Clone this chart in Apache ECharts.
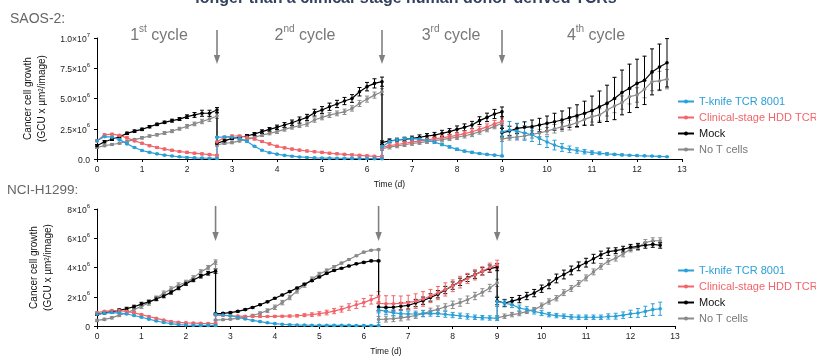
<!DOCTYPE html>
<html><head><meta charset="utf-8">
<script src="https://cdn.jsdelivr.net/npm/echarts@6/dist/echarts.min.js"></script>
<style>html,body{margin:0;padding:0;background:#fff}#c{width:816px;height:357px}</style>
</head><body><div id="c"></div>
<script>
// ---------- time points (hours) per cycle ----------
const HOURS_C1 = [0,4,8,12,16,20,24,28,32,36,40,44,48,52,56,60,64];
const HOURS_C2 = [64,68,72,76,80,84,88,92,96,100,104,108,112,116,120,124,128,132,136,140,144,148,152];
const HOURS_C3 = [152,156,160,164,168,172,176,180,184,188,192,196,200,204,208,212,216];
const HOURS_C4 = [216,220,224,228,232,236,240,244,248,252,256,260,264,268,272,276,280,284,288,292,296,300,304];
const CYCLE_BOUNDARY_H = [64,152,216];
const X_TICKS = [0,1,2,3,4,5,6,7,8,9,10,11,12,13];

const SERIES_NAMES = ['T-knife TCR 8001','Clinical-stage HDD TCR','Mock','No T cells'];
const CYCLE_LABELS = [['1','st'],['2','nd'],['3','rd'],['4','th']];

// ---------- SAOS-2 (values in 10^6 GCU x µm²/image) ----------
const SAOS_TICKS = [0,2.5,5,7.5,10];
const SAOS_TICK_LABELS = ['0.0','2.5×10^6','5.0×10^6','7.5×10^6','1.0×10^7'];
const SAOS_TKNIFE = [1.5,1.85,1.8,1.6,1.25,0.95,0.7,0.55,0.42,0.32,0.25,0.18,0.13,0.1,0.08,0.06,0.05,
  1.8,1.82,1.8,1.7,1.45,1.05,0.72,0.52,0.4,0.3,0.23,0.17,0.13,0.1,0.08,0.07,0.06,0.05,0.05,0.04,0.04,0.03,0.03,
  1.0,1.45,1.58,1.65,1.68,1.65,1.55,1.4,1.2,1.0,0.8,0.65,0.55,0.45,0.38,0.32,0.25,
  2.25,2.4,2.3,2.15,2.0,1.7,1.4,1.15,0.95,0.8,0.7,0.6,0.53,0.47,0.42,0.38,0.34,0.31,0.28,0.26,0.24,0.21,0.19];
const SAOS_TKNIFE_ERR = [0.05,0.05,0.05,0.05,0.05,0.05,0.05,0.05,0.05,0.05,0.05,0.05,0.05,0.05,0.05,0.05,0.05,
  0.06,0.06,0.06,0.06,0.06,0.06,0.05,0.05,0.05,0.05,0.05,0.05,0.05,0.05,0.05,0.05,0.05,0.05,0.05,0.05,0.05,0.05,0.05,
  0.1,0.12,0.12,0.12,0.12,0.12,0.12,0.12,0.1,0.1,0.1,0.08,0.08,0.08,0.06,0.06,0.06,
  0.35,0.7,0.65,0.6,0.55,0.5,0.45,0.4,0.32,0.27,0.22,0.18,0.15,0.12,0.1,0.08,0.07,0.06,0.05,0.05,0.04,0.04,0.03];
const SAOS_HDD = [1.5,2.0,2.05,1.95,1.75,1.5,1.3,1.1,0.95,0.82,0.72,0.62,0.55,0.48,0.42,0.36,0.3,
  1.4,1.8,1.9,1.9,1.8,1.65,1.45,1.25,1.05,0.92,0.82,0.73,0.66,0.6,0.55,0.48,0.43,0.38,0.34,0.3,0.26,0.22,0.2,
  0.96,1.1,1.2,1.3,1.4,1.5,1.58,1.66,1.75,1.85,1.95,2.1,2.25,2.45,2.65,2.9,3.1];
const SAOS_HDD_ERR = [0.08,0.08,0.08,0.08,0.08,0.08,0.08,0.08,0.08,0.08,0.08,0.08,0.08,0.08,0.08,0.08,0.08,
  0.08,0.08,0.08,0.08,0.08,0.08,0.08,0.08,0.08,0.08,0.08,0.08,0.08,0.08,0.08,0.08,0.08,0.08,0.08,0.08,0.08,0.08,0.08,
  0.15,0.15,0.15,0.15,0.15,0.18,0.18,0.2,0.2,0.2,0.22,0.22,0.25,0.25,0.25,0.28,0.3];
const SAOS_MOCK = [1.1,1.43,1.63,1.84,2.12,2.3,2.45,2.67,2.86,3.03,3.17,3.3,3.5,3.64,3.78,3.78,4.05,
  1.3,1.5,1.7,1.8,1.9,2.07,2.26,2.45,2.62,2.81,3.0,3.22,3.44,3.83,4.05,4.32,4.55,4.79,5.0,5.56,5.98,6.25,6.39,
  1.35,1.51,1.57,1.62,1.71,1.79,1.9,1.98,2.12,2.26,2.45,2.62,2.81,3.17,3.44,3.72,3.9,
  2.17,2.31,2.53,2.62,2.67,2.81,2.95,3.08,3.22,3.42,3.58,3.78,4.0,4.32,4.6,5.0,5.5,5.84,6.25,6.5,7.2,7.6,7.95];
const SAOS_MOCK_ERR = [0.1,0.1,0.1,0.1,0.1,0.1,0.1,0.1,0.1,0.1,0.12,0.12,0.15,0.2,0.25,0.25,0.2,
  0.1,0.1,0.1,0.1,0.12,0.12,0.15,0.15,0.18,0.2,0.22,0.25,0.25,0.28,0.28,0.3,0.3,0.3,0.32,0.35,0.35,0.38,0.38,
  0.15,0.15,0.15,0.18,0.18,0.2,0.2,0.22,0.25,0.25,0.28,0.28,0.3,0.32,0.35,0.38,0.4,
  0.35,0.4,0.4,0.45,0.55,0.55,0.6,0.7,0.75,0.8,0.9,1.0,1.2,1.3,1.5,1.75,1.85,2.0,2.0,2.0,1.9,1.9,2.0];
const SAOS_NOT = [0.95,1.1,1.2,1.3,1.45,1.6,1.75,1.9,2.0,2.15,2.3,2.5,2.7,2.9,3.1,3.3,3.55,
  1.16,1.3,1.36,1.5,1.62,1.79,1.98,2.12,2.26,2.45,2.62,2.75,2.89,3.22,3.44,3.63,3.77,3.9,4.18,4.59,4.95,5.28,5.56,
  0.85,0.98,1.08,1.18,1.28,1.36,1.44,1.52,1.6,1.7,1.8,1.92,2.05,2.25,2.45,2.7,2.95,
  1.65,1.76,1.82,1.9,2.03,2.15,2.3,2.5,2.65,2.8,3.0,3.27,3.5,3.64,4.05,4.38,4.66,5.15,5.29,5.76,6.39,6.45,6.6];
const SAOS_NOT_ERR = [0.08,0.08,0.08,0.08,0.1,0.1,0.1,0.1,0.1,0.12,0.12,0.12,0.15,0.15,0.18,0.2,0.2,
  0.1,0.1,0.1,0.1,0.1,0.12,0.12,0.12,0.15,0.15,0.15,0.15,0.18,0.18,0.2,0.2,0.2,0.22,0.22,0.25,0.25,0.25,0.25,
  0.15,0.15,0.15,0.15,0.15,0.15,0.15,0.15,0.18,0.18,0.18,0.18,0.2,0.2,0.2,0.2,0.2,
  0.2,0.2,0.25,0.25,0.3,0.3,0.3,0.35,0.35,0.4,0.4,0.45,0.45,0.5,0.5,0.55,0.55,0.6,0.6,0.7,0.75,0.8,0.8];

// ---------- NCI-H1299 ----------
const NCI_TICKS = [0,2,4,6,8];
const NCI_TICK_LABELS = ['0','2×10^6','4×10^6','6×10^6','8×10^6'];
const NCI_TKNIFE = [0.8,0.88,0.92,0.9,0.82,0.72,0.6,0.47,0.34,0.24,0.16,0.1,0.07,0.05,0.04,0.04,0.03,
  0.8,0.75,0.7,0.6,0.48,0.38,0.3,0.22,0.16,0.12,0.09,0.07,0.06,0.05,0.05,0.04,0.04,0.04,0.04,0.03,0.03,0.03,0.03,
  1.1,1.0,0.9,0.85,0.82,0.82,0.85,0.87,0.85,0.8,0.75,0.7,0.65,0.6,0.57,0.55,0.52,
  1.68,1.57,1.46,1.23,1.12,1.0,0.89,0.78,0.71,0.67,0.62,0.6,0.6,0.6,0.6,0.65,0.67,0.74,0.83,0.89,1.0,1.12,1.18];
const NCI_TKNIFE_ERR = [0.04,0.04,0.04,0.04,0.04,0.04,0.04,0.04,0.04,0.04,0.04,0.04,0.04,0.04,0.04,0.04,0.04,
  0.04,0.04,0.04,0.04,0.04,0.04,0.04,0.04,0.04,0.04,0.04,0.04,0.04,0.04,0.04,0.04,0.04,0.04,0.04,0.04,0.04,0.04,0.04,
  0.2,0.2,0.2,0.2,0.2,0.2,0.2,0.2,0.2,0.2,0.18,0.18,0.18,0.15,0.15,0.15,0.15,
  0.35,0.2,0.2,0.2,0.2,0.18,0.18,0.15,0.15,0.15,0.15,0.15,0.15,0.15,0.15,0.18,0.2,0.22,0.25,0.3,0.35,0.4,0.45];
const NCI_HDD = [0.92,1.0,1.05,1.05,1.0,0.9,0.78,0.65,0.52,0.4,0.3,0.25,0.22,0.2,0.18,0.17,0.16,
  0.75,0.72,0.7,0.68,0.66,0.65,0.65,0.65,0.66,0.67,0.68,0.7,0.74,0.78,0.84,0.92,1.02,1.15,1.3,1.45,1.6,1.8,2.0,
  1.55,1.52,1.52,1.55,1.6,1.7,1.85,2.05,2.25,2.5,2.75,3.0,3.25,3.5,3.75,4.0,4.2];
const NCI_HDD_ERR = [0.05,0.05,0.05,0.05,0.05,0.05,0.05,0.05,0.05,0.05,0.05,0.05,0.05,0.05,0.05,0.05,0.05,
  0.05,0.05,0.05,0.05,0.05,0.05,0.05,0.05,0.06,0.06,0.07,0.08,0.1,0.12,0.14,0.16,0.18,0.2,0.22,0.25,0.28,0.3,0.35,
  0.55,0.55,0.55,0.5,0.5,0.5,0.5,0.45,0.45,0.45,0.4,0.4,0.35,0.35,0.3,0.3,0.3];
const NCI_MOCK = [0.8,0.9,0.98,1.07,1.18,1.32,1.5,1.65,1.85,2.05,2.3,2.6,2.9,3.15,3.4,3.6,3.75,
  0.83,0.86,0.92,1.0,1.12,1.27,1.45,1.65,1.9,2.12,2.35,2.6,2.85,3.1,3.35,3.6,3.8,3.95,4.1,4.25,4.35,4.45,4.45,
  1.3,1.28,1.28,1.35,1.41,1.57,1.73,1.95,2.17,2.46,2.76,3.02,3.29,3.51,3.74,3.92,4.03,
  1.7,1.57,1.7,1.84,2.05,2.25,2.55,2.85,3.25,3.52,3.8,4.08,4.33,4.6,4.87,5.08,5.15,5.25,5.38,5.45,5.52,5.58,5.52];
const NCI_MOCK_ERR = [0.08,0.08,0.08,0.1,0.1,0.1,0.12,0.12,0.12,0.12,0.12,0.12,0.12,0.12,0.12,0.12,0.15,
  0.05,0.05,0.05,0.05,0.05,0.05,0.05,0.05,0.05,0.05,0.05,0.05,0.05,0.05,0.05,0.05,0.05,0.05,0.05,0.05,0.05,0.05,0.05,
  0.25,0.25,0.25,0.25,0.25,0.25,0.25,0.25,0.25,0.25,0.25,0.25,0.25,0.25,0.25,0.25,0.25,
  0.25,0.25,0.25,0.25,0.25,0.25,0.25,0.3,0.3,0.3,0.3,0.3,0.3,0.3,0.25,0.25,0.2,0.2,0.2,0.2,0.2,0.2,0.2];
const NCI_NOT = [0.38,0.45,0.56,0.74,0.89,1.12,1.35,1.57,1.9,2.24,2.53,2.8,2.98,3.29,3.7,3.99,4.37,
  0.4,0.43,0.47,0.52,0.6,0.72,0.87,1.05,1.28,1.6,1.95,2.4,2.8,3.2,3.55,3.8,4.05,4.3,4.55,4.8,5.05,5.18,5.22,
  0.45,0.47,0.5,0.55,0.62,0.72,0.85,1.0,1.15,1.3,1.45,1.6,1.8,2.05,2.3,2.6,2.95,
  0.56,0.67,0.78,0.85,1.0,1.12,1.39,1.68,1.9,2.28,2.57,2.91,3.29,3.7,4.08,4.42,4.64,4.93,5.27,5.38,5.71,5.83,5.83];
const NCI_NOT_ERR = [0.08,0.08,0.08,0.1,0.1,0.12,0.15,0.15,0.15,0.15,0.15,0.15,0.15,0.15,0.15,0.15,0.15,
  0.05,0.05,0.05,0.05,0.06,0.08,0.1,0.12,0.15,0.15,0.15,0.15,0.15,0.15,0.12,0.1,0.08,0.06,0.05,0.05,0.05,0.05,0.05,
  0.2,0.2,0.2,0.2,0.2,0.2,0.22,0.22,0.22,0.22,0.25,0.25,0.25,0.25,0.25,0.25,0.25,
  0.15,0.15,0.15,0.15,0.15,0.15,0.18,0.18,0.18,0.2,0.2,0.2,0.2,0.2,0.2,0.2,0.2,0.2,0.2,0.2,0.2,0.2,0.2];

// ---------- build ----------
const COLORS = ['#2aa0d8','#f2646a','#000000','#8a8a8a'];
const FONT = '"Liberation Sans", Arial, sans-serif';
const ALL_H = HOURS_C1.concat(HOURS_C2, HOURS_C3, HOURS_C4);
const HDD_H = HOURS_C1.concat(HOURS_C2, HOURS_C3);
const toDays = h => h / 24;

function pts(hours, vals){ return vals.map((v,i)=>[toDays(hours[i]), v]); }
function errPts(hours, vals, errs){ return vals.map((v,i)=>[toDays(hours[i]), v, errs[i]]); }

function lineSeries(name, idx, color, hours, vals){
  return {type:'line', name, xAxisIndex:idx, yAxisIndex:idx, data:pts(hours, vals),
    symbol:'circle', symbolSize:3.6, showSymbol:true, itemStyle:{color},
    lineStyle:{color, width:1.2}, animation:false, silent:true, z:3};
}
function errSeries(idx, color, hours, vals, errs){
  return {type:'custom', xAxisIndex:idx, yAxisIndex:idx, data:errPts(hours, vals, errs),
    encode:{x:0, y:1}, animation:false, silent:true, z:2,
    renderItem:(params, api)=>{
      const x = api.value(0), y = api.value(1), e = api.value(2);
      const t = api.coord([x, y+e]), b = api.coord([x, y-e]);
      const st = {stroke:color, lineWidth:1};
      return {type:'group', children:[
        {type:'line', shape:{x1:t[0],y1:t[1],x2:b[0],y2:b[1]}, style:st},
        {type:'line', shape:{x1:t[0]-2,y1:t[1],x2:t[0]+2,y2:t[1]}, style:st},
        {type:'line', shape:{x1:b[0]-2,y1:b[1],x2:b[0]+2,y2:b[1]}, style:st}
      ]};
    }};
}

const panels = [
  {tk:SAOS_TKNIFE, tkE:SAOS_TKNIFE_ERR, hd:SAOS_HDD, hdE:SAOS_HDD_ERR, mo:SAOS_MOCK, moE:SAOS_MOCK_ERR, no:SAOS_NOT, noE:SAOS_NOT_ERR},
  {tk:NCI_TKNIFE, tkE:NCI_TKNIFE_ERR, hd:NCI_HDD, hdE:NCI_HDD_ERR, mo:NCI_MOCK, moE:NCI_MOCK_ERR, no:NCI_NOT, noE:NCI_NOT_ERR}
];
const series = [];
panels.forEach((p, i)=>{
  series.push(errSeries(i, COLORS[3], ALL_H, p.no, p.noE));
  series.push(lineSeries(SERIES_NAMES[3], i, COLORS[3], ALL_H, p.no));
  series.push(errSeries(i, COLORS[2], ALL_H, p.mo, p.moE));
  series.push(lineSeries(SERIES_NAMES[2], i, COLORS[2], ALL_H, p.mo));
  series.push(errSeries(i, COLORS[1], HDD_H, p.hd, p.hdE));
  series.push(lineSeries(SERIES_NAMES[1], i, COLORS[1], HDD_H, p.hd));
  series.push(errSeries(i, COLORS[0], ALL_H, p.tk, p.tkE));
  series.push(lineSeries(SERIES_NAMES[0], i, COLORS[0], ALL_H, p.tk));
});

function tickFormatter(ticks, labels){
  return v => {
    const i = ticks.findIndex(t => Math.abs(t - v) < 1e-6);
    if (i < 0) return '';
    const parts = labels[i].split('^');
    return parts.length === 2 ? '{b|' + parts[0] + '}{s|' + parts[1] + '}' : '{b|' + parts[0] + '}';
  };
}
const tickRich = {b:{fontSize:8.6, fontFamily:FONT, color:'#222', lineHeight:12, verticalAlign:'bottom'},
                  s:{fontSize:6, fontFamily:FONT, color:'#222', lineHeight:12, verticalAlign:'top'}};

function yAxis(idx, ticks, labels){
  return {type:'value', gridIndex:idx, min:ticks[0], max:ticks[ticks.length-1], interval:ticks[1]-ticks[0],
    name:'Cancer cell growth\n(GCU x µm²/image)', nameLocation:'middle', nameGap:42,
    nameTextStyle:{fontSize:10, fontFamily:FONT, color:'#111', lineHeight:14},
    axisLine:{show:true, lineStyle:{color:'#000', width:1}},
    axisTick:{show:true, length:3, lineStyle:{color:'#000'}},
    splitLine:{show:false},
    axisLabel:{margin:7, formatter:tickFormatter(ticks, labels), rich:tickRich}};
}
function xAxis(idx){
  return {type:'value', gridIndex:idx, min:X_TICKS[0], max:X_TICKS[X_TICKS.length-1], interval:1,
    name:'Time (d)', nameLocation:'middle', nameGap:21,
    nameTextStyle:{fontSize:8.5, fontFamily:FONT, color:'#111'},
    axisLine:{show:true, onZero:false, lineStyle:{color:'#000', width:1}},
    axisTick:{show:true, length:3, lineStyle:{color:'#000'}},
    splitLine:{show:false},
    axisLabel:{fontSize:8.5, fontFamily:FONT, color:'#222', margin:6}};
}
function legend(top){
  return {orient:'vertical', left:672, top, itemWidth:16, itemHeight:5, itemGap:3,
    textStyle:{fontSize:11, fontFamily:FONT, lineHeight:13}, selectedMode:false,
    data:SERIES_NAMES.map((n,i)=>({name:n, textStyle:{color: i===2 ? '#111' : (i===3 ? '#777' : COLORS[i])}}))};
}

const chart = echarts.init(document.getElementById('c'), null, {renderer:'canvas'});
chart.setOption({
  backgroundColor:'#fff',
  animation:false,
  grid:[{left:97, right:134, top:38, height:121}, {left:97, right:141, top:209, height:119}],
  xAxis:[xAxis(0), xAxis(1)],
  yAxis:[yAxis(0, SAOS_TICKS, SAOS_TICK_LABELS), yAxis(1, NCI_TICKS, NCI_TICK_LABELS)],
  legend:[legend(90), legend(259)],
  series
});

// ---------- annotations ----------
const graphics = [
  {type:'text', style:{text:'longer than a clinical-stage human donor-derived TCRs', x:406, y:6.5,
    fontSize:16, fontWeight:'bold', fontFamily:FONT, fill:'#33415f', align:'center', verticalAlign:'bottom'}},
  {type:'text', style:{text:'SAOS-2:', x:10, y:19, fontSize:14, fontFamily:FONT, fill:'#666', verticalAlign:'middle'}},
  {type:'text', style:{text:'NCI-H1299:', x:7, y:190, fontSize:13.5, fontFamily:FONT, fill:'#666', verticalAlign:'middle'}}
];
const cycleX = [159, 305, 451, 596];
CYCLE_LABELS.forEach((c, i)=>{
  graphics.push({type:'text', style:{
    text:'{n|' + c[0] + '}{s|' + c[1] + '}{n| cycle}', x:cycleX[i], y:34, align:'center', verticalAlign:'middle',
    rich:{n:{fontSize:16, fontFamily:FONT, fill:'#777', lineHeight:20, verticalAlign:'bottom'},
          s:{fontSize:10, fontFamily:FONT, fill:'#777', lineHeight:20, verticalAlign:'top'}}}});
});
const arrowY = [[30, 64], [206, 241]];
[0,1].forEach(g=>{
  CYCLE_BOUNDARY_H.forEach(h=>{
    const px = chart.convertToPixel({gridIndex:g}, [toDays(h), 0])[0];
    const [y1, y2] = arrowY[g];
    graphics.push({type:'line', shape:{x1:px, y1:y1, x2:px, y2:y2-6}, style:{stroke:'#808080', lineWidth:1.6}});
    graphics.push({type:'polygon', shape:{points:[[px-3.2, y2-9],[px+3.2, y2-9],[px, y2]]}, style:{fill:'#808080'}});
  });
});
chart.setOption({graphic:graphics});
</script>
</body></html>
